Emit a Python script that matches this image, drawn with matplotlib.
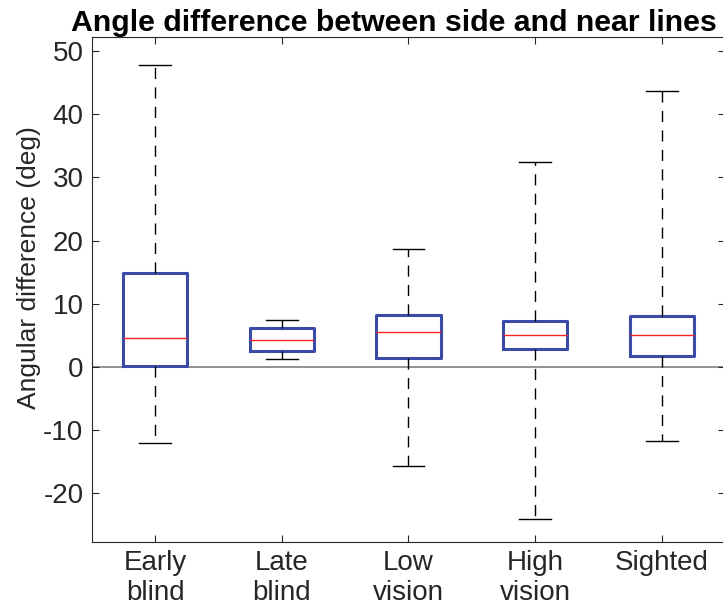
import matplotlib.pyplot as plt

plt.rcParams['font.family'] = ['Liberation Sans', 'DejaVu Sans']
plt.rcParams['axes.unicode_minus'] = False

groups = ["Early\nblind", "Late\nblind", "Low\nvision", "High\nvision", "Sighted"]
whisker_low = [-12.1, 1.3, -15.7, -24.1, -11.8]
q1 = [0.1, 2.5, 1.4, 2.85, 1.8]
medians = [4.65, 4.2, 5.5, 5.1, 5.1]
q3 = [14.9, 6.2, 8.2, 7.3, 8.0]
whisker_high = [47.7, 7.5, 18.6, 32.5, 43.6]

stats = []
for i, g in enumerate(groups):
    stats.append({"label": g, "whislo": whisker_low[i], "q1": q1[i], "med": medians[i],
                  "q3": q3[i], "whishi": whisker_high[i], "fliers": []})

fig = plt.figure(figsize=(7.23, 6.08), dpi=100)
ax = fig.add_axes([0.127, 0.1086, 0.876, 0.8305])

text_col = "#262626"
ax.axhline(0, color="#7f7f7f", lw=1.2, zorder=1)
ax.bxp(stats, positions=range(1, 6), widths=0.51, showfliers=False,
       boxprops=dict(color="#3a4aa6", lw=2.2),
       medianprops=dict(color="#ff2020", lw=1),
       whiskerprops=dict(color="black", lw=1, linestyle=(0, (8, 6))),
       capprops=dict(color="black", lw=1), capwidths=0.25, zorder=3)

ax.set_xlim(0.5, 5.5)
ax.set_ylim(-27.7, 52.2)
ax.set_yticks([-20, -10, 0, 10, 20, 30, 40, 50])
ax.set_xticks(range(1, 6))
ax.set_xticklabels(groups, fontsize=20, color=text_col, linespacing=1.17)
ax.tick_params(axis="y", labelsize=20, labelcolor=text_col, pad=6)
ax.tick_params(axis="x", pad=6)
ax.tick_params(direction="in", length=5, color=text_col, top=True, right=True, width=0.8)
for s in ax.spines.values():
    s.set_color(text_col)
    s.set_linewidth(0.8)

ax.set_ylabel("Angular difference (deg)", fontsize=19, color=text_col)
ax.yaxis.set_label_coords(-0.08, 0.543)
fig.text(0.545, 0.962, "Angle difference between side and near lines", fontsize=21.8,
         fontweight="bold", color="black", ha="center", va="center")

fig.savefig("out.png", dpi=100)
